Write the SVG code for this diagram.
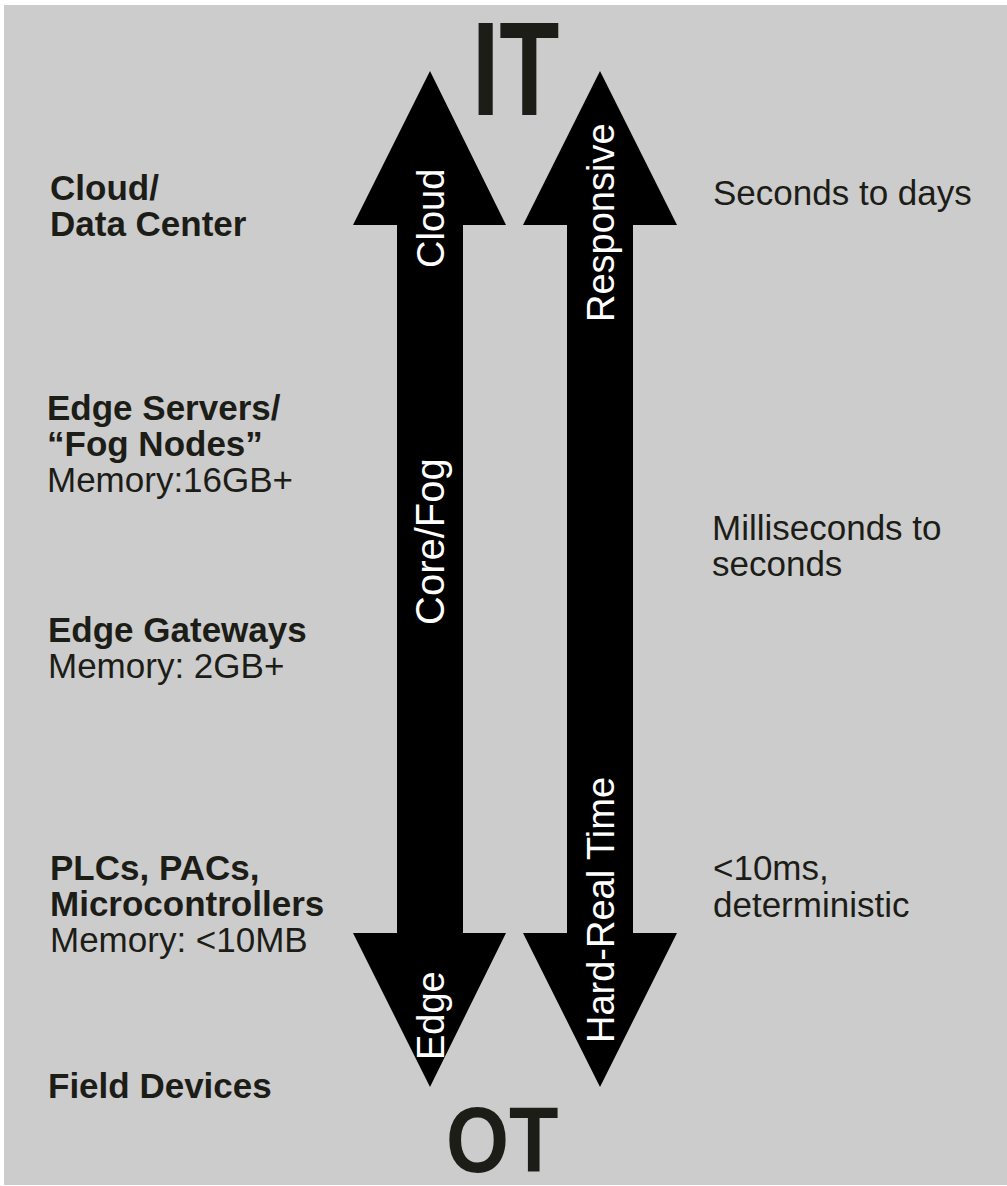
<svg xmlns="http://www.w3.org/2000/svg" width="1007" height="1186" viewBox="0 0 1007 1186">
  <style>
    .bg { fill: #cccccc; }
    .lbl { font-family: "Liberation Sans", Arial, sans-serif; font-size: 35px; fill: #1d1d18; }
    .b { font-weight: bold; }
    .big { font-family: "Liberation Sans", Arial, sans-serif; font-weight: bold; fill: #1d1d18; }
    .arrow { fill: #000000; }
    .vt { font-family: "Liberation Sans", Arial, sans-serif; font-size: 38px; fill: #ffffff; }
  </style>
  <rect x="0" y="0" width="1007" height="1186" fill="#ffffff"/>
  <rect class="bg" x="4" y="5" width="1003" height="1180"/>

  <!-- double-headed arrows -->
  <g id="connectors">
    <g id="arrow-location">
      <polygon class="arrow" points="430,71 506,225 463,225 463,933 506,933 430,1087 353,933 397,933 397,225 353,225"/>
      <text class="vt" transform="translate(444,268) rotate(-90)">Cloud</text>
      <text class="vt" transform="translate(444,625) rotate(-90)" style="font-size:40px">Core/Fog</text>
      <text class="vt" transform="translate(444,1060) rotate(-90)">Edge</text>
    </g>
    <g id="arrow-latency">
      <polygon class="arrow" points="600,71 677,225 633,225 633,933 677,933 600,1087 523,933 567,933 567,225 523,225"/>
      <text class="vt" transform="translate(614,322) rotate(-90)">Responsive</text>
      <text class="vt" transform="translate(614,1043) rotate(-90)">Hard-Real Time</text>
    </g>
  </g>

  <g id="it"><text class="big" transform="translate(472,115) scale(0.74,1)" style="font-size:133px">IT</text></g>
  <g id="ot"><text class="big" transform="translate(446,1172) scale(0.88,1)" style="font-size:92px">OT</text></g>

  <g id="cloud-dc">
    <text class="lbl b" x="50" y="200">Cloud/</text>
    <text class="lbl b" x="50" y="236">Data Center</text>
  </g>
  <g id="edge-servers">
    <text class="lbl b" x="47" y="420">Edge Servers/</text>
    <text class="lbl b" x="47" y="456">“Fog Nodes”</text>
    <text class="lbl" x="47" y="492">Memory:16GB+</text>
  </g>
  <g id="edge-gateways">
    <text class="lbl b" x="48" y="642">Edge Gateways</text>
    <text class="lbl" x="48" y="678">Memory: 2GB+</text>
  </g>
  <g id="plcs">
    <text class="lbl b" x="50" y="880">PLCs, PACs,</text>
    <text class="lbl b" x="50" y="916">Microcontrollers</text>
    <text class="lbl" x="50" y="952">Memory: &lt;10MB</text>
  </g>
  <g id="field-devices">
    <text class="lbl b" x="48" y="1098">Field Devices</text>
  </g>

  <g id="latency-days"><text class="lbl" x="713" y="205">Seconds to days</text></g>
  <g id="latency-seconds">
    <text class="lbl" x="712" y="540">Milliseconds to</text>
    <text class="lbl" x="712" y="576">seconds</text>
  </g>
  <g id="latency-ms">
    <text class="lbl" x="713" y="880">&lt;10ms,</text>
    <text class="lbl" x="713" y="917">deterministic</text>
  </g>
</svg>
